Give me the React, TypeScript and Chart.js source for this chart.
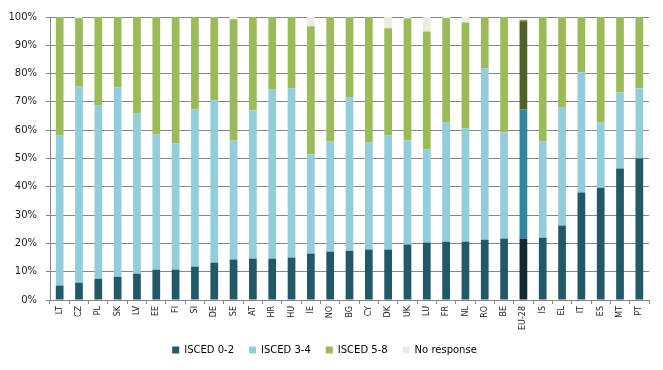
import React, { useEffect, useRef } from "react";
import { Chart, registerables } from "chart.js";

Chart.register(...registerables);

const categories = ["LT","CZ","PL","SK","LV","EE","FI","SI","DE","SE","AT","HR","HU","IE","NO","BG","CY","DK","UK","LU","FR","NL","RO","BE","EU-28","IS","EL","IT","ES","MT","PT"];
const isced02 = [5.1,6.1,7.5,8.2,9.3,10.7,10.7,11.8,13.2,14.3,14.6,14.6,15.0,16.4,17.1,17.4,17.8,17.8,19.6,20.3,20.6,20.6,21.3,21.7,21.7,22.0,26.3,38.0,39.7,46.5,50.0];
const isced34 = [53.0,69.4,61.2,66.9,56.6,47.8,44.6,55.5,57.4,42.1,52.4,59.8,59.8,35.1,38.9,54.2,37.9,40.3,36.8,32.9,42.1,40.0,60.6,37.5,45.6,34.0,41.7,42.4,23.0,26.9,24.8];
const isced58 = [41.9,24.1,31.3,24.9,34.1,41.5,44.7,32.7,29.2,42.8,33.0,25.6,25.2,45.2,44.0,28.4,44.3,37.9,43.1,41.7,36.9,37.5,18.1,40.8,31.2,44.0,32.0,19.6,37.3,26.6,25.2];
const noResponse = [0,0.4,0,0,0,0,0,0,0.2,0.8,0,0,0,3.3,0,0,0,4.0,0.5,5.1,0.4,1.9,0,0,0.5,0,0,0,0,0,0];
const yTicks = [0,10,20,30,40,50,60,70,80,90,100];

const highlight = "EU-28";
const seriesNames = ["ISCED 0-2","ISCED 3-4","ISCED 5-8","No response"];
const normalColors = ["#215968","#92cddc","#9bbb59","#eeece1"];
const euColors = ["#12292f","#31859c","#4f6228","#948a54"];

export default function App() {
  const ref = useRef<HTMLCanvasElement>(null);
  useEffect(() => {
    document.body.style.margin = "0";
    const hi = categories.indexOf(highlight);
    const series = [isced02, isced34, isced58, noResponse];
    const font = { family: "'DejaVu Sans', Verdana, sans-serif", size: 10 };
    const chart = new Chart(ref.current!, {
      type: "bar",
      data: {
        labels: categories,
        datasets: series.map((d, i) => ({
          label: seriesNames[i],
          data: d,
          backgroundColor: categories.map((_, j) => (j === hi ? euColors[i] : normalColors[i])),
          barPercentage: 0.4,
          categoryPercentage: 1,
          borderWidth: 0,
        })),
      },
      options: {
        animation: false,
        responsive: false,
        maintainAspectRatio: false,
        layout: { padding: { top: 17, right: 14, bottom: 5, left: 0 } },
        plugins: {
          tooltip: { enabled: false },
          legend: {
            position: "bottom",
            labels: {
              font,
              color: "#1a1a1a",
              boxWidth: 7,
              boxHeight: 7,
              padding: 15,
              generateLabels: () =>
                seriesNames.map((n, i) => ({
                  text: n,
                  fillStyle: normalColors[i],
                  strokeStyle: normalColors[i],
                  lineWidth: 0,
                  datasetIndex: i,
                  hidden: false,
                })),
            },
          },
        },
        scales: {
          x: {
            stacked: true,
            grid: { display: true, drawOnChartArea: false, color: "#868686", tickLength: 4, offset: true },
            border: { color: "#868686" },
            ticks: { font: { ...font, size: 8 }, color: "#1a1a1a", minRotation: 90, maxRotation: 90, padding: 2, autoSkip: false },
            afterFit: (s: any) => { s.height = 30; },
          },
          y: {
            stacked: true,
            min: 0,
            max: 100,
            afterBuildTicks: (s: any) => { s.ticks = yTicks.map((v) => ({ value: v })); },
            grid: { color: "#868686", tickLength: 4 },
            border: { color: "#868686" },
            ticks: { font, color: "#1a1a1a", padding: 9, callback: (v: any) => v + "%" },
            afterFit: (s: any) => { s.width = 50; },
          },
        },
      },
    });
    return () => chart.destroy();
  }, []);
  return (
    <div style={{ width: 663, height: 370 }}>
      <canvas ref={ref} width={663} height={370} style={{ width: 663, height: 370, display: "block" }} />
    </div>
  );
}
